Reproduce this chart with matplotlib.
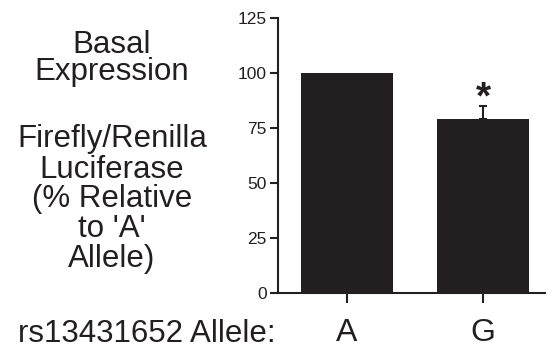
import matplotlib
matplotlib.use("Agg")
import matplotlib.pyplot as plt

categories = ["A", "G"]
values = [100, 79]
err_upper = [0, 6]
yticks = [0, 25, 50, 75, 100, 125]
left_lines = ["Basal", "Expression", "Firefly/Renilla", "Luciferase",
              "(% Relative", "to 'A'", "Allele)"]
xlabel_text = "rs13431652 Allele:"
sig_marks = ["", "*"]

W, H = 549, 347
plt.rcParams['font.family'] = ['Liberation Sans', 'DejaVu Sans']
fig = plt.figure(figsize=(W / 100, H / 100), dpi=100)

ax = fig.add_axes([278 / W, 1 - 293 / H, (545 - 278) / W, (293 - 18) / H])
col = "#231f20"
x = list(range(len(categories)))
ax.bar(x, values, width=0.67, color=col, edgecolor="none", zorder=2)
for xi, v, e in zip(x, values, err_upper):
    if e > 0:
        ax.errorbar([xi], [v], yerr=[[0], [e]], fmt="none", ecolor=col,
                    elinewidth=1.5, capsize=3, capthick=1.5, zorder=3)
for xi, v, e, s in zip(x, values, err_upper, sig_marks):
    if s:
        ax.text(xi, 84, s, ha="center", va="baseline",
                fontsize=28, fontweight="bold", color=col)

ax.set_xlim(-0.507, 1.456)
ax.set_ylim(0, 125)
ax.set_yticks(yticks)
ax.set_yticklabels([str(t) for t in yticks])
ax.set_xticks(x)
ax.set_xticklabels(categories)
ax.tick_params(axis="y", labelsize=12.5, length=6, width=1.5, pad=2, colors=col)
ax.tick_params(axis="x", labelsize=23, length=7, width=1.5, pad=11, colors=col)
for sp in ["top", "right"]:
    ax.spines[sp].set_visible(False)
for sp in ["left", "bottom"]:
    ax.spines[sp].set_linewidth(1.5)
    ax.spines[sp].set_color(col)

baselines = [53, 80, 147, 178, 207, 237, 267]
for line, b in zip(left_lines, baselines):
    fig.text(112 / W, 1 - b / H, line, ha="center", va="baseline",
             fontsize=22.5, color=col)

fig.text(276 / W, 1 - 342 / H, xlabel_text, ha="right", va="baseline",
         fontsize=22.5, color=col)

fig.savefig("out.png", dpi=100, facecolor="white")
